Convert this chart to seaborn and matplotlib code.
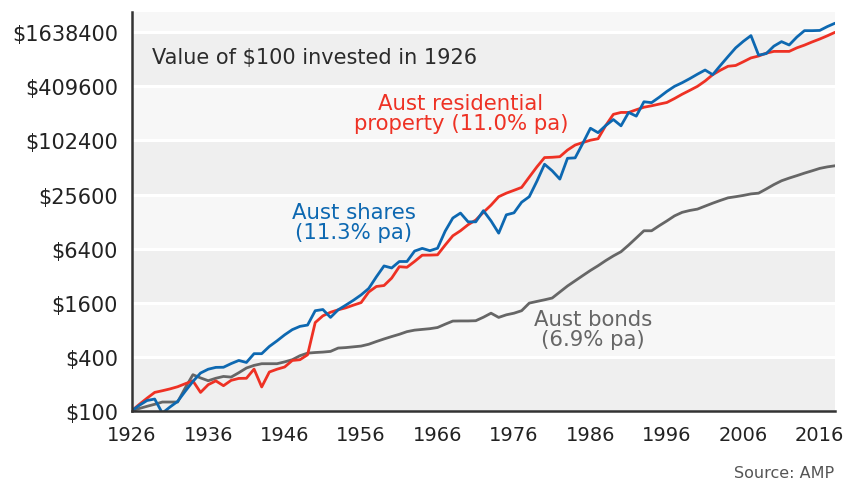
import numpy as np
import pandas as pd
import seaborn as sns
import matplotlib.pyplot as plt
from matplotlib.ticker import FixedLocator, FuncFormatter

# values, one per year 1926-2018
years = list(range(1926, 2019))

shares = [
    100, 115, 130, 135, 94, 110, 127, 165, 212, 263,
    290, 304, 305, 335, 363, 345, 432, 432, 520, 600,
    700, 800, 870, 900, 1300, 1340, 1095, 1330, 1500, 1700,
    1950, 2300, 3100, 4100, 3890, 4590, 4590, 6000, 6430, 6060,
    6450, 10000, 14000, 15900, 12700, 12700, 16900, 13000, 9500, 15200,
    16000, 21000, 24200, 36000, 55600, 47000, 38000, 64800, 65500, 95000,
    140000, 125000, 150000, 175000, 149000, 210000, 191000, 276000, 270000, 310000,
    360000, 410000, 450000, 500000, 560000, 623000, 553000, 700000, 880000, 1100000,
    1300000, 1506000, 913000, 950000, 1150000, 1290000, 1184000, 1450000, 1710000, 1710000,
    1720000, 1900000, 2070000,
]

property_ = [
    100, 118, 138, 160, 167, 175, 185, 200, 215, 160,
    195, 215, 190, 218, 229, 230, 291, 184, 270, 290,
    307, 363, 370, 420, 960, 1140, 1250, 1330, 1400, 1500,
    1600, 2100, 2420, 2480, 3000, 4020, 3960, 4600, 5400, 5410,
    5450, 7000, 8880, 10100, 11800, 13300, 16200, 19500, 24200, 26500,
    28500, 30700, 40000, 52000, 66000, 66500, 67500, 80000, 91000, 97000,
    103000, 107000, 150000, 200000, 210000, 210000, 225000, 240000, 249000, 260000,
    271000, 300000, 335000, 370000, 410000, 470000, 553000, 620000, 686000, 700000,
    770000, 850000, 892000, 960000, 1005000, 1005000, 1005000, 1100000, 1180000, 1280000,
    1380000, 1500000, 1640000,
]

bonds = [
    100, 106, 112, 118, 125, 125, 125, 180, 252, 232,
    216, 230, 241, 237, 265, 299, 320, 334, 334, 334,
    350, 370, 410, 438, 445, 450, 458, 499, 505, 515,
    525, 550, 590, 630, 670, 710, 760, 790, 805, 820,
    845, 920, 997, 1000, 1000, 1006, 1100, 1220, 1095, 1170,
    1220, 1300, 1580, 1650, 1720, 1800, 2100, 2450, 2800, 3200,
    3650, 4120, 4700, 5300, 5900, 7000, 8400, 10100, 10100, 11500,
    13000, 14800, 16200, 17000, 17600, 19000, 20500, 22000, 23500, 24200,
    25000, 26000, 26500, 29500, 33000, 36400, 39000, 41500, 44300, 47000,
    50000, 52000, 53500,
]

tick_values = [100, 400, 1600, 6400, 25600, 102400, 409600, 1638400]
x_ticks = list(range(1926, 2017, 10))

df = pd.DataFrame({'year': years * 3,
                   'value': bonds + property_ + shares,
                   'series': ['bonds'] * len(years) + ['property'] * len(years) + ['shares'] * len(years)})

colors = {'bonds': '#666666', 'property': '#ee3124', 'shares': '#0d68b1'}

sns.set_style('white')
plt.rcParams['font.family'] = ['DejaVu Sans']

fig = plt.figure(figsize=(8.5, 4.81), dpi=100)
ax = fig.add_axes([0.155, 0.144, 0.8274, 0.8283])

ymax = 100 * 4 ** 7.37
ax.set_yscale('log', base=4)
ax.set_ylim(100, ymax)
ax.set_xlim(1926, 2018)

# alternating grey bands with white separators
edges = tick_values + [ymax]
for i in range(len(edges) - 1):
    ax.axhspan(edges[i], edges[i + 1], color='#efefef' if i % 2 == 0 else '#f7f7f7', zorder=0, lw=0)
for v in tick_values[1:]:
    ax.axhline(v, color='white', lw=2.2, zorder=1)

sns.lineplot(data=df, x='year', y='value', hue='series', palette=colors,
             legend=False, linewidth=2.0, ax=ax, zorder=3)

ax.yaxis.set_major_locator(FixedLocator(tick_values))
ax.yaxis.set_minor_locator(FixedLocator([]))
ax.yaxis.set_major_formatter(FuncFormatter(lambda v, p: f'${int(round(v))}'))
ax.set_xticks(x_ticks)
ax.set_xlabel('')
ax.set_ylabel('')

ax.tick_params(axis='y', length=9, width=1.6, color='#333333', labelsize=15, labelcolor='#222222', pad=1)
ax.tick_params(axis='x', length=7, width=1.6, color='#333333', labelsize=14, labelcolor='#222222', pad=3)
for s in ['top', 'right']:
    ax.spines[s].set_visible(False)
for s in ['left', 'bottom']:
    ax.spines[s].set_color('#333333')
    ax.spines[s].set_linewidth(1.8)
    ax.spines[s].set_zorder(4)

ax.text(152 / 850, 1 - 58 / 481, 'Value of $100 invested in 1926', transform=fig.transFigure,
        fontsize=15, color='#2b2b2b', ha='left', va='center')
fig.text(461 / 850, 1 - 114 / 481, 'Aust residential\nproperty (11.0% pa)', fontsize=15.3,
         color='#ee3124', ha='center', va='center', linespacing=1.0)
fig.text(354 / 850, 1 - 223 / 481, 'Aust shares\n(11.3% pa)', fontsize=15.3,
         color='#0d68b1', ha='center', va='center', linespacing=1.0)
fig.text(593 / 850, 1 - 330 / 481, 'Aust bonds\n(6.9% pa)', fontsize=15.3,
         color='#666666', ha='center', va='center', linespacing=1.0)
fig.text(834 / 850, 1 - 474 / 481, 'Source: AMP', fontsize=11.5,
         color='#555555', ha='right', va='center')

fig.savefig('out.png', dpi=100)
